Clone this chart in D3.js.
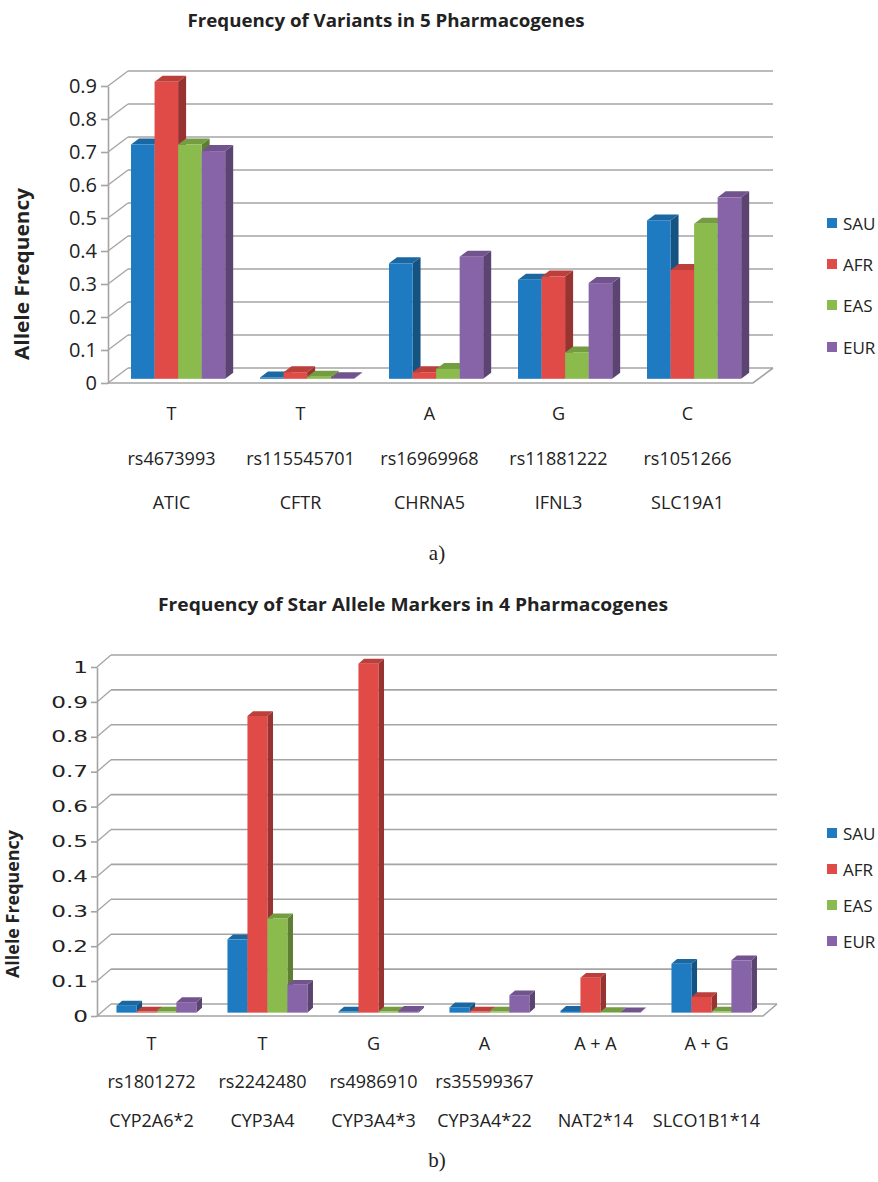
<!DOCTYPE html>
<html>
<head>
<meta charset="utf-8">
<script src="https://cdn.jsdelivr.net/npm/d3@7"></script>
<style>
  body { margin: 0; background: #fff; }
  svg { display: block; }
  text { font-family: "Open Sans", "Noto Sans", sans-serif; fill: #222; }
</style>
</head>
<body>
<svg width="878" height="1182"></svg>
<script>
// populations, shared by both panels
const series = ["SAU", "AFR", "EAS", "EUR"];
const colors = ["#1f7bc1", "#e04b47", "#8bbb4c", "#8764a8"];

// panel a) variants
const topGenes = ["ATIC", "CFTR", "CHRNA5", "IFNL3", "SLC19A1"];
const topRsIds = ["rs4673993", "rs115545701", "rs16969968", "rs11881222", "rs1051266"];
const topAlleles = ["T", "T", "A", "G", "C"];
const topSAU = [0.71, 0.004, 0.35, 0.30, 0.48];
const topAFR = [0.90, 0.02, 0.02, 0.31, 0.33];
const topEAS = [0.71, 0.006, 0.03, 0.08, 0.47];
const topEUR = [0.69, 0.002, 0.37, 0.29, 0.55];
const topTicks = [0, 0.1, 0.2, 0.3, 0.4, 0.5, 0.6, 0.7, 0.8, 0.9];

// panel b) star allele markers
const botGenes = ["CYP2A6*2", "CYP3A4", "CYP3A4*3", "CYP3A4*22", "NAT2*14", "SLCO1B1*14"];
const botRsIds = ["rs1801272", "rs2242480", "rs4986910", "rs35599367", "", ""];
const botAlleles = ["T", "T", "G", "A", "A + A", "A + G"];
const botSAU = [0.02, 0.21, 0.003, 0.015, 0.005, 0.14];
const botAFR = [0.003, 0.85, 1.0, 0.003, 0.10, 0.045];
const botEAS = [0.003, 0.27, 0.003, 0.003, 0.002, 0.003];
const botEUR = [0.03, 0.08, 0.005, 0.05, 0.001, 0.15];
const botTicks = [0, 0.1, 0.2, 0.3, 0.4, 0.5, 0.6, 0.7, 0.8, 0.9, 1];

var svg = d3.select("svg");
var grid = "#a4a4a4";

function drawChart(c) {
  var g = svg.append("g");

  var y = d3.scaleLinear().domain([0, c.yMax]).range([c.y0, c.yTop]);
  var x = d3.scaleBand().domain(c.genes).range([c.x0, c.x1])
      .paddingInner(c.padIn).paddingOuter(c.padOut);
  var xs = d3.scaleBand().domain(series).range([0, x.bandwidth()]);

  // project a point at depth z (0 = front, 1 = back wall)
  var P = function (px, v, z) { return [px + z * c.dx, y(v) - z * c.dy]; };

  // back wall gridlines + left wall diagonals
  c.ticks.forEach(function (t) {
    g.append("line")
      .attr("x1", c.x0 + c.dx).attr("y1", y(t) - c.dy)
      .attr("x2", c.x1 + c.dx).attr("y2", y(t) - c.dy)
      .attr("stroke", grid).attr("stroke-width", 1.6);
    g.append("line")
      .attr("x1", c.x0).attr("y1", y(t))
      .attr("x2", c.x0 + c.dx).attr("y2", y(t) - c.dy)
      .attr("stroke", grid).attr("stroke-width", 1.3);
  });

  // floor front and right edges
  g.append("path")
    .attr("d", "M" + c.x0 + "," + y(0) + "L" + c.x1 + "," + y(0) +
      "L" + (c.x1 + c.dx) + "," + (y(0) - c.dy))
    .attr("fill", "none").attr("stroke", grid).attr("stroke-width", 1.6);

  // front value axis
  var axis = d3.axisLeft(y).tickValues(c.ticks).tickSize(c.tickSize)
      .tickSizeOuter(0).tickPadding(c.tickPad)
      .tickFormat(function (d) { return d === 0 ? "0" : (d === 1 ? "1" : d.toFixed(1)); });
  var ax = g.append("g").attr("transform", "translate(" + c.x0 + ",0)").call(axis);
  ax.select(".domain").attr("stroke", grid).attr("stroke-width", 1.6);
  ax.selectAll(".tick line").attr("stroke", grid).attr("stroke-width", 1.6);
  ax.selectAll(".tick text")
    .attr("fill", "#222")
    .style("font-family", c.tickFont)
    .style("font-size", c.tickFontSize + "px");
  if (c.tickStretch) {
    ax.selectAll(".tick text")
      .attr("x", -(c.tickSize + c.tickPad) / c.tickStretch)
      .attr("transform", "scale(" + c.tickStretch + ",1)");
  }

  // 3D bars
  var rows = c.genes.map(function (gname, i) {
    return series.map(function (s, j) { return { gene: gname, s: s, j: j, v: c.values[j][i] }; });
  });
  var z0 = 0.28, z1 = 0.68;
  rows.forEach(function (row) {
    row.forEach(function (d) {
      var xl = x(d.gene) + xs(d.s), xr = xl + xs.bandwidth();
      var col = d3.color(colors[d.j]);
      var pts = function (arr) { return arr.map(function (p) { return p.join(","); }).join(" "); };
      // right side face
      g.append("polygon")
        .attr("points", pts([P(xr, 0, z0), P(xr, 0, z1), P(xr, d.v, z1), P(xr, d.v, z0)]))
        .attr("fill", col.darker(1.1));
      // top face
      g.append("polygon")
        .attr("points", pts([P(xl, d.v, z0), P(xr, d.v, z0), P(xr, d.v, z1), P(xl, d.v, z1)]))
        .attr("fill", col.darker(0.5));
      // front face
      var a = P(xl, d.v, z0), b = P(xr, 0, z0);
      g.append("rect")
        .attr("x", a[0]).attr("y", a[1])
        .attr("width", b[0] - a[0]).attr("height", Math.max(0, b[1] - a[1]))
        .attr("fill", col);
    });
  });

  // category labels, three rows
  [c.alleles, c.rsIds, c.genes].forEach(function (labels, r) {
    g.selectAll(null).data(labels).enter().append("text")
      .attr("x", function (d, i) { return x(c.genes[i]) + x.bandwidth() / 2 - 1; })
      .attr("y", c.labelY[r])
      .attr("text-anchor", "middle")
      .style("font-size", "18px")
      .text(function (d) { return d; });
  });

  // chart title
  g.append("text")
    .attr("x", c.titleX).attr("y", c.titleY)
    .attr("text-anchor", "middle")
    .attr("textLength", c.titleW).attr("lengthAdjust", "spacingAndGlyphs")
    .style("font-size", c.titleSize + "px").style("font-weight", "bold")
    .text(c.title);

  // value axis title
  g.append("text")
    .attr("transform", "translate(" + c.ytX + "," + c.ytY + ") rotate(-90)")
    .attr("text-anchor", "middle")
    .attr("textLength", c.ytW).attr("lengthAdjust", "spacingAndGlyphs")
    .style("font-size", c.ytSize + "px").style("font-weight", "bold")
    .text("Allele Frequency");

  // legend
  var lg = g.selectAll(".lg").data(series).enter().append("g")
    .attr("transform", function (d, i) { return "translate(827," + c.legY[i] + ")"; });
  lg.append("rect").attr("x", 0).attr("y", -5).attr("width", 10).attr("height", 10)
    .attr("fill", function (d, i) { return colors[i]; });
  lg.append("text").attr("x", 16).attr("y", 6.5)
    .style("font-size", "17px")
    .text(function (d) { return d; });

  // panel letter
  g.append("text")
    .attr("x", 437).attr("y", c.panelY)
    .attr("text-anchor", "middle")
    .style("font-family", "'Liberation Serif', 'DejaVu Serif', serif")
    .style("font-size", "21px")
    .text(c.panel);
}

drawChart({
  genes: topGenes, rsIds: topRsIds, alleles: topAlleles,
  values: [topSAU, topAFR, topEAS, topEUR], ticks: topTicks,
  yMax: 0.9, y0: 383, yTop: 86,
  x0: 108, x1: 753, dx: 20, dy: 15,
  padIn: 0.27, padOut: 0.135,
  tickSize: 7, tickPad: 4, tickFont: "'Open Sans', sans-serif", tickFontSize: 20,
  labelY: [419.5, 464.5, 508.5],
  title: "Frequency of Variants in 5 Pharmacogenes",
  titleX: 386, titleY: 27, titleW: 397, titleSize: 18,
  ytX: 29, ytY: 274, ytW: 172, ytSize: 20,
  legY: [223, 264, 305, 347],
  panel: "a)", panelY: 560
});

drawChart({
  genes: botGenes, rsIds: botRsIds, alleles: botAlleles,
  values: [botSAU, botAFR, botEAS, botEUR], ticks: botTicks,
  yMax: 1, y0: 1016, yTop: 667,
  x0: 97, x1: 763, dx: 14, dy: 12,
  padIn: 0.28, padOut: 0.14,
  tickSize: 6, tickPad: 3, tickFont: "'DejaVu Sans', sans-serif", tickFontSize: 16, tickStretch: 1.45,
  labelY: [1049.5, 1087.5, 1126.5],
  title: "Frequency of Star Allele Markers in 4 Pharmacogenes",
  titleX: 413, titleY: 611, titleW: 510, titleSize: 17,
  ytX: 18.5, ytY: 904, ytW: 148, ytSize: 17,
  legY: [833, 869, 905, 941],
  panel: "b)", panelY: 1167
});
</script>
</body>
</html>
